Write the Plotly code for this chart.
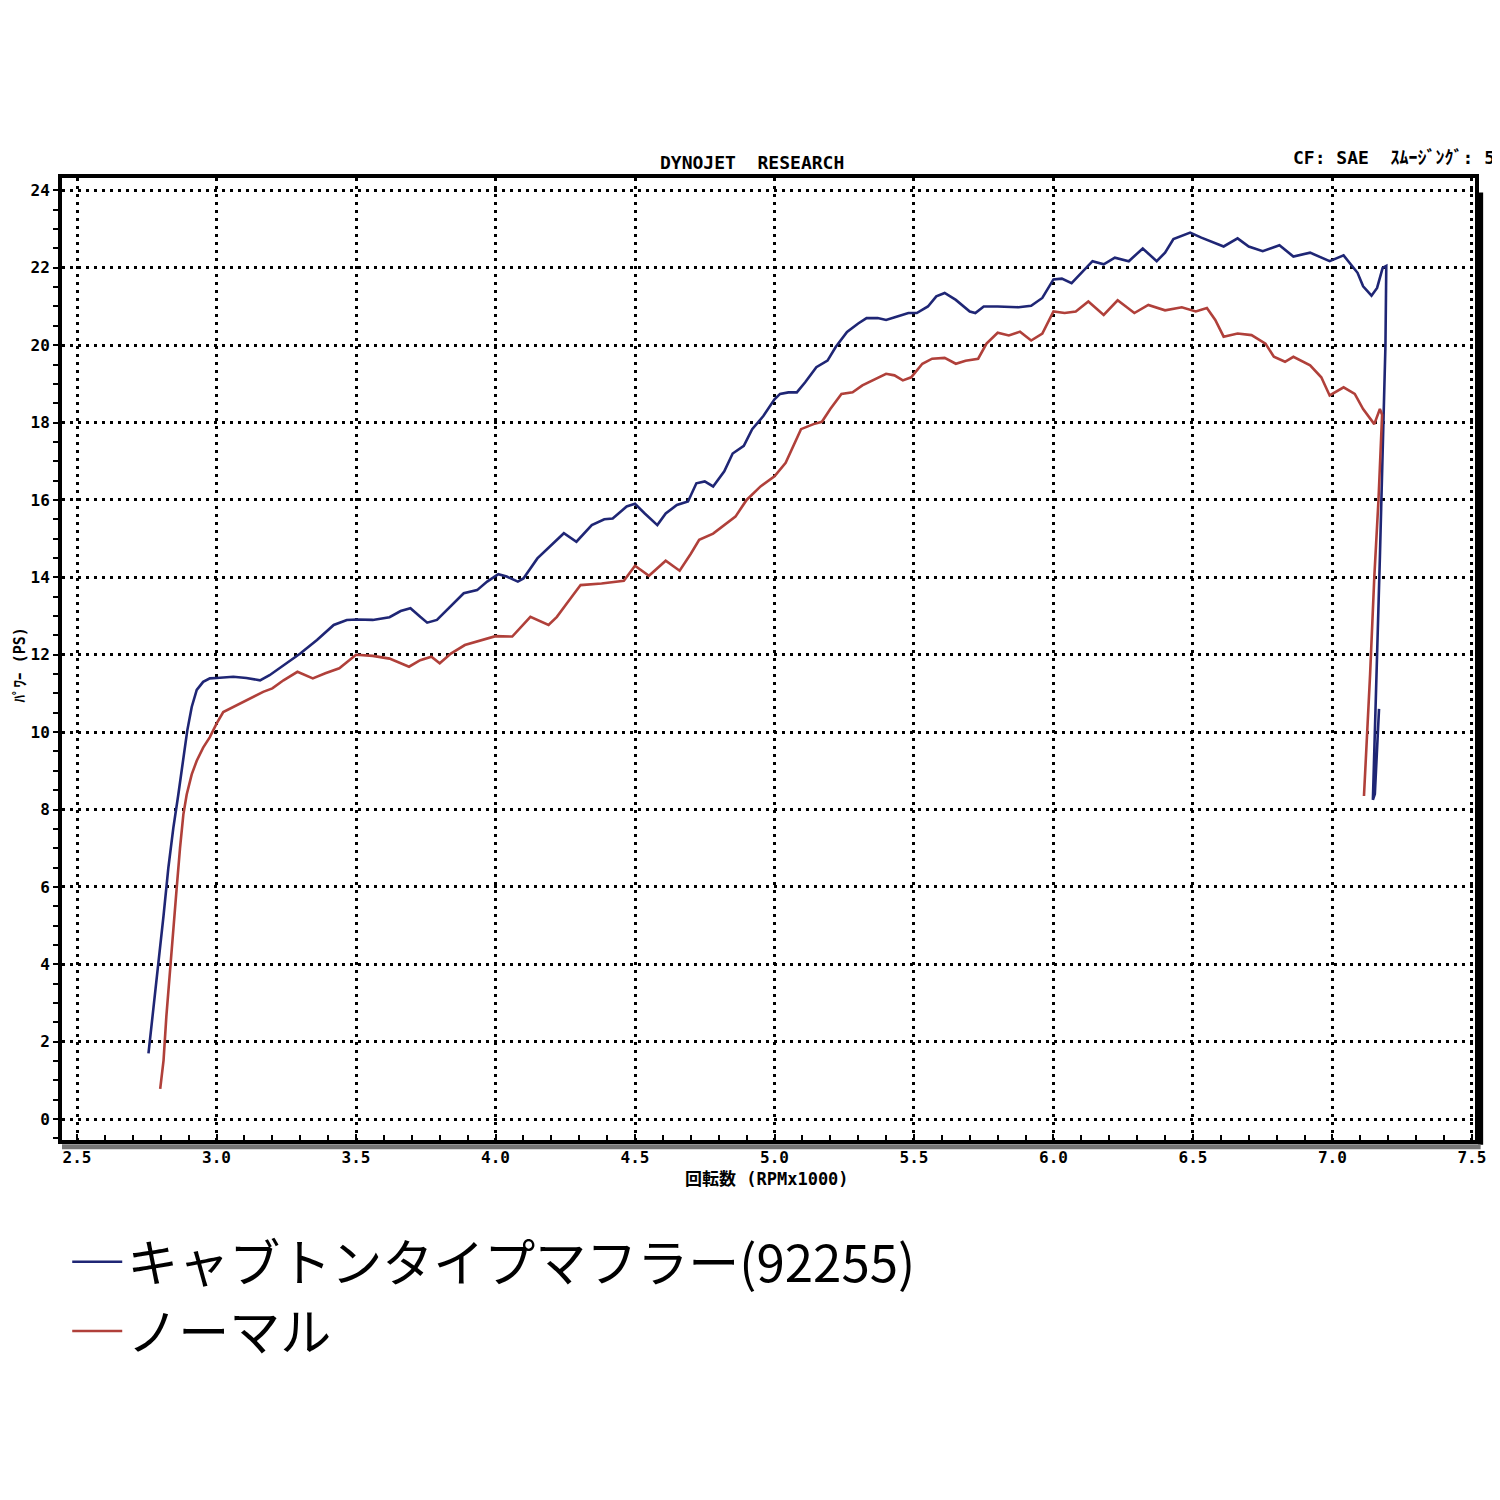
import plotly.graph_objects as go

# ---------------- data ----------------
blue_name = "キャブトンタイプマフラー(92255)"
red_name = "ノーマル"

blue_rpm = [2.756, 2.774, 2.792, 2.81, 2.827, 2.845, 2.863, 2.881, 2.895, 2.911, 2.929, 2.952, 2.976,
            3.0, 3.06, 3.107, 3.156, 3.19, 3.24, 3.30, 3.36, 3.42, 3.467, 3.503, 3.56, 3.62, 3.66,
            3.695, 3.73, 3.755, 3.79, 3.84, 3.886, 3.934, 3.97, 4.01, 4.04, 4.08, 4.10, 4.15, 4.20,
            4.245, 4.29, 4.345, 4.39, 4.42, 4.47, 4.50, 4.535, 4.58, 4.61, 4.65, 4.69, 4.72, 4.75,
            4.78, 4.82, 4.85, 4.89, 4.92, 4.96, 5.0, 5.02, 5.05, 5.08, 5.11, 5.15, 5.19, 5.22, 5.26,
            5.30, 5.33, 5.37, 5.40, 5.44, 5.48, 5.51, 5.55, 5.58, 5.61, 5.65, 5.70, 5.72, 5.75, 5.80,
            5.875, 5.92, 5.96, 6.0, 6.03, 6.065, 6.10, 6.14, 6.18, 6.22, 6.27, 6.32, 6.37, 6.40, 6.43,
            6.49, 6.53, 6.56, 6.61, 6.66, 6.70, 6.75, 6.81, 6.86, 6.92, 6.99, 7.04, 7.09, 7.11, 7.14,
            7.16, 7.18, 7.193, 7.19, 7.18, 7.17, 7.16, 7.15, 7.145, 7.152, 7.16, 7.167]
blue_ps = [1.70, 2.83, 4.04, 5.26, 6.48, 7.52, 8.39, 9.35, 10.04, 10.65, 11.09, 11.30, 11.39,
           11.40, 11.43, 11.40, 11.34, 11.47, 11.73, 12.03, 12.38, 12.77, 12.90, 12.91, 12.90, 12.97, 13.13,
           13.20, 12.98, 12.83, 12.90, 13.25, 13.59, 13.67, 13.89, 14.08, 14.02, 13.89, 13.97, 14.49, 14.84,
           15.14, 14.92, 15.35, 15.50, 15.52, 15.83, 15.90, 15.65, 15.35, 15.65, 15.87, 15.96, 16.43, 16.48,
           16.35, 16.74, 17.20, 17.40, 17.83, 18.17, 18.60, 18.74, 18.78, 18.78, 19.04, 19.43, 19.60, 19.96, 20.34,
           20.56, 20.70, 20.70, 20.65, 20.74, 20.83, 20.83, 21.00, 21.26, 21.35, 21.17, 20.87, 20.83, 21.00, 21.00,
           20.98, 21.02, 21.22, 21.70, 21.72, 21.60, 21.87, 22.17, 22.09, 22.26, 22.17, 22.50, 22.17, 22.39, 22.74,
           22.91, 22.78, 22.70, 22.55, 22.76, 22.55, 22.43, 22.58, 22.29, 22.39, 22.17, 22.32, 21.87, 21.52, 21.28,
           21.48, 22.00, 22.05, 20.0, 17.0, 14.5, 12.0, 9.5, 8.25, 8.4, 9.6, 10.6]

red_rpm = [2.798, 2.81, 2.82, 2.833, 2.845, 2.857, 2.869, 2.881, 2.893, 2.911, 2.929, 2.952, 2.976,
           3.0, 3.024, 3.06, 3.095, 3.13, 3.167, 3.20, 3.24, 3.29, 3.345, 3.39, 3.44, 3.50, 3.56, 3.62,
           3.69, 3.73, 3.77, 3.80, 3.84, 3.89, 3.93, 4.0, 4.06, 4.125, 4.19, 4.22, 4.26, 4.305, 4.38,
           4.46, 4.50, 4.55, 4.61, 4.66, 4.70, 4.73, 4.78, 4.83, 4.86, 4.90, 4.95, 5.0, 5.04, 5.095,
           5.14, 5.17, 5.20, 5.24, 5.28, 5.315, 5.35, 5.40, 5.43, 5.46, 5.49, 5.53, 5.565, 5.61, 5.65,
           5.685, 5.73, 5.76, 5.80, 5.84, 5.88, 5.92, 5.96, 6.0, 6.04, 6.08, 6.125, 6.18, 6.23, 6.29,
           6.34, 6.40, 6.46, 6.51, 6.55, 6.58, 6.61, 6.66, 6.71, 6.76, 6.79, 6.83, 6.86, 6.92, 6.96,
           6.99, 7.04, 7.08, 7.11, 7.15, 7.17, 7.178, 7.165, 7.15, 7.135, 7.12, 7.113]
red_ps = [0.78, 1.52, 2.65, 3.87, 4.91, 5.96, 7.00, 7.87, 8.39, 8.91, 9.26, 9.60, 9.87,
          10.22, 10.52, 10.65, 10.78, 10.91, 11.04, 11.13, 11.34, 11.56, 11.39, 11.52, 11.65, 12.00, 11.97, 11.90,
          11.69, 11.86, 11.95, 11.78, 12.03, 12.25, 12.34, 12.48, 12.47, 12.98, 12.77, 12.98, 13.37, 13.80, 13.84,
          13.91, 14.30, 14.04, 14.43, 14.17, 14.61, 14.97, 15.13, 15.39, 15.57, 16.00, 16.35, 16.61, 16.96, 17.83,
          17.96, 18.02, 18.35, 18.74, 18.78, 18.96, 19.09, 19.26, 19.22, 19.09, 19.17, 19.52, 19.65, 19.67, 19.52,
          19.60, 19.65, 20.04, 20.32, 20.25, 20.35, 20.12, 20.30, 20.87, 20.83, 20.87, 21.13, 20.78, 21.16, 20.83,
          21.04, 20.90, 20.98, 20.87, 20.96, 20.65, 20.22, 20.30, 20.26, 20.04, 19.70, 19.57, 19.70, 19.48, 19.17,
          18.70, 18.91, 18.74, 18.35, 17.96, 18.35, 18.2, 16.0, 14.0, 11.5, 9.5, 8.35]

x_ticks = [2.5, 3.0, 3.5, 4.0, 4.5, 5.0, 5.5, 6.0, 6.5, 7.0, 7.5]
x_tick_text = ["2.5", "3.0", "3.5", "4.0", "4.5", "5.0", "5.5", "6.0", "6.5", "7.0", "7.5"]
y_ticks = [0, 2, 4, 6, 8, 10, 12, 14, 16, 18, 20, 22, 24]

title_text = "DYNOJET  RESEARCH"
info_text = "CF: SAE  ｽﾑｰｼﾞﾝｸﾞ: 5"
x_title = "回転数 (RPMx1000)"
y_title = "ﾊﾟﾜｰ (PS)"

BLUE = "#1f2675"
RED = "#b0403a"
MONO = "DejaVu Sans Mono, Noto Sans CJK JP"

fig = go.Figure()
fig.add_trace(go.Scatter(x=blue_rpm, y=blue_ps, mode="lines", name=blue_name,
                         line=dict(color=BLUE, width=2.6)))
fig.add_trace(go.Scatter(x=red_rpm, y=red_ps, mode="lines", name=red_name,
                         line=dict(color=RED, width=2.6)))

axis_common = dict(showgrid=True, gridcolor="black", gridwidth=3, griddash="3px,5px",
                   zeroline=False, showline=True, linecolor="black", linewidth=4, mirror=True,
                   automargin=False,
                   tickfont=dict(family=MONO, size=16, color="black", weight="bold"))

fig.update_xaxes(range=[2.446, 7.511], tickvals=x_ticks, ticktext=x_tick_text,
                 ticks="inside", ticklen=6, tickwidth=2, tickcolor="black",
                 minor=dict(dtick=0.1, tick0=2.5, ticks="inside", ticklen=5, tickwidth=2,
                            tickcolor="black", showgrid=False),
                 **axis_common)
fig.update_yaxes(range=[-0.54, 24.32], tickvals=y_ticks,
                 ticks="outside", ticklen=5, tickwidth=2, tickcolor="black",
                 minor=dict(dtick=0.5, tick0=0, ticks="outside", ticklen=5, tickwidth=2,
                            tickcolor="black", showgrid=False),
                 **axis_common)

annos = [
    dict(text=title_text, x=0.488, y=1.0166, xref="paper", yref="paper", showarrow=False,
         font=dict(family=MONO, size=18, color="black", weight="bold"), xanchor="center", yanchor="middle"),
    dict(text=info_text, x=1.0156, y=1.021, xref="paper", yref="paper", showarrow=False,
         font=dict(family=MONO, size=18, color="black", weight="bold"), xanchor="right", yanchor="middle"),
    dict(text=x_title, x=0.499, y=-0.041, xref="paper", yref="paper", showarrow=False,
         font=dict(family=MONO, size=17, color="black", weight="bold"), xanchor="center", yanchor="middle"),
    dict(text=y_title, x=-0.030, y=0.494, xref="paper", yref="paper", showarrow=False, textangle=-90,
         font=dict(family=MONO, size=15, color="black", weight="bold"), xanchor="center", yanchor="middle"),
]

shapes = [
    # shadow on right and bottom of plot frame
    dict(type="line", xref="paper", yref="paper", x0=1.004, x1=1.004, y0=-0.005, y1=0.985,
         line=dict(color="black", width=5)),
    dict(type="line", xref="paper", yref="paper", x0=0.0, x1=1.004, y0=-0.007, y1=-0.007,
         line=dict(color="#777777", width=5)),
]

fig.update_layout(
    width=1492, height=1492,
    margin=dict(l=54, r=25, t=170, b=360, autoexpand=False),
    paper_bgcolor="white", plot_bgcolor="white",
    annotations=annos, shapes=shapes,
    showlegend=True,
    legend=dict(x=0.0037, y=-0.0853, xanchor="left", yanchor="top",
                font=dict(family="Noto Sans CJK JP", size=51, color="black"),
                bgcolor="rgba(0,0,0,0)", tracegroupgap=0, itemwidth=50),
)

fig.write_html("out.html")
